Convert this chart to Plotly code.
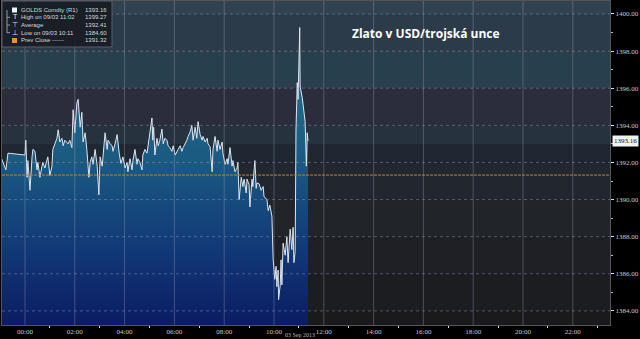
import pandas as pd
import plotly.graph_objects as go

# ---------------- data (minutes from 03 Sep 2013 00:00, price in USD/oz) ----------------
minutes = [
    -58, -46, -41, -20, 0, 2, 5, 7, 12, 17, 19, 24, 29, 31, 36, 41, 43, 48, 53, 55,
    60, 65, 67, 72, 77, 80, 84, 89, 92, 96, 101, 104, 108, 113, 116, 120, 125, 128, 133, 137,
    140, 145, 149, 154, 157, 161, 164, 169, 174, 178, 181, 186, 193, 198, 200, 205, 210, 212, 217, 222,
    227, 231, 236, 241, 246, 248, 253, 258, 260, 265, 270, 272, 277, 282, 284, 289, 294, 296, 301, 306,
    308, 310, 313, 318, 321, 325, 330, 333, 337, 342, 345, 349, 354, 357, 362, 366, 369, 374, 378, 381,
    386, 390, 393, 398, 402, 405, 410, 414, 417, 422, 427, 429, 434, 439, 441, 446, 451, 453, 458, 463,
    465, 470, 475, 477, 482, 487, 489, 494, 499, 501, 506, 511, 513, 516, 521, 525, 528, 533, 535, 540,
    542, 547, 549, 554, 557, 559, 564, 569, 571, 574, 576, 581, 583, 586, 590, 595, 598, 602, 605, 607,
    610, 611, 615, 617, 619, 622, 627, 631, 634, 639, 643, 646, 648, 651, 653, 656, 658, 662, 663, 668,
    670, 675, 678, 680, 682,
]
prices = [
    1392.3, 1391.6, 1392.5, 1392.45, 1392.4, 1393.2, 1391.2, 1392.1, 1390.5, 1392.3, 1392.7, 1392.6, 1391.6, 1392.0, 1391.2, 1391.8, 1392.0, 1391.7, 1392.2, 1392.3,
    1391.3, 1391.8, 1392.7, 1393.05, 1393.3, 1393.76, 1393.1, 1393.3, 1392.9, 1393.2, 1393.05, 1393.0, 1393.2, 1392.8, 1394.84, 1393.6, 1395.2, 1395.4, 1393.9, 1394.7,
    1393.1, 1393.6, 1392.7, 1391.2, 1392.0, 1392.3, 1391.9, 1392.7, 1391.8, 1390.25, 1392.3, 1391.8, 1393.6, 1392.7, 1393.2, 1393.0, 1392.9, 1392.6, 1393.0, 1393.5,
    1392.5, 1391.95, 1392.3, 1391.7, 1392.0, 1391.5, 1392.2, 1391.6, 1392.1, 1392.7, 1391.9, 1392.2, 1392.0, 1391.6, 1392.4, 1392.7, 1392.5, 1392.8, 1393.4, 1394.4,
    1393.2, 1393.9, 1392.4, 1393.3, 1392.9, 1393.2, 1393.8, 1393.0, 1393.3, 1393.2, 1392.9, 1392.8, 1392.6, 1392.9, 1392.4, 1392.6, 1392.7, 1392.9, 1392.6, 1392.8,
    1393.0, 1393.2, 1393.4, 1393.65, 1394.0, 1393.2, 1393.9, 1393.3, 1394.2, 1393.5, 1393.2, 1393.4, 1393.1, 1393.3, 1393.0, 1392.85, 1391.5, 1392.7, 1393.4, 1392.6,
    1393.2, 1392.7, 1393.1, 1392.5, 1391.9, 1392.2, 1391.9, 1392.8, 1391.8, 1392.1, 1391.5, 1391.7, 1392.0, 1390.0, 1391.2, 1390.7, 1391.1, 1390.35, 1391.1, 1390.8,
    1389.6, 1391.1, 1390.7, 1392.1, 1390.6, 1390.9, 1390.85, 1390.5, 1390.6, 1390.7, 1390.15, 1390.0, 1390.0, 1389.4, 1389.7, 1389.1, 1386.75, 1385.7, 1386.4, 1385.3,
    1386.2, 1384.6, 1385.4, 1386.75, 1385.4, 1387.65, 1387.0, 1388.0, 1386.6, 1388.4, 1387.3, 1388.5, 1386.6, 1387.2, 1393.75, 1396.3, 1395.4, 1399.27, 1396.1, 1395.5,
    1395.0, 1394.2, 1391.8, 1393.6, 1393.16,
]

series_name = "GOLDS Comdty (R1)"
last_price = 1393.16
high_label, high_value = "High on 09/03 11:02", 1399.27
avg_label, avg_value = "Average", 1392.41
low_label, low_value = "Low on 09/03 10:11", 1384.60
prev_label, prev_close = "Prev Close ------", 1391.32
title_text = "Zlato v USD/trojská unce"
date_label = "03 Sep 2013"
y_ticks = [1384, 1386, 1388, 1390, 1392, 1394, 1396, 1398, 1400]
x_tick_hours = list(range(0, 24, 2))

base = pd.Timestamp("2013-09-03 00:00")
times = [base + pd.Timedelta(minutes=m) for m in minutes]

# ---------------- layout geometry helpers ----------------
W_FIG, H_FIG = 640, 339
M_L, M_R, M_T, M_B = 2, 30, 1, 14
PW = W_FIG - M_L - M_R
PH = H_FIG - M_T - M_B


def px(x):
    return (x - M_L) / PW


def py(y):
    return (M_T + PH - y) / PH


Y_MIN, Y_MAX = 1383.24, 1400.70
x_start = base - pd.Timedelta(minutes=55.4)
x_end = base + pd.Timedelta(hours=23.494)

fig = go.Figure()

fig.add_trace(go.Scatter(
    x=times, y=prices, mode="lines",
    line=dict(color="#dde5ee", width=1),
    fill="tozeroy",
    fillgradient=dict(
        type="vertical",
        colorscale=[[0, "#0b1c62"], [0.35, "#123a78"], [0.7, "#1a5880"], [1, "#22688a"]],
        start=Y_MIN, stop=1395.5,
    ),
    hoverinfo="skip", showlegend=False,
))

shapes = []
# background bands
bands = [
    (1383.0, 1384, "#1a1a1d"), (1384, 1386, "#1c1d21"), (1386, 1388, "#1e2025"),
    (1388, 1390, "#212429"), (1390, 1392, "#22272f"), (1392, 1393, "#1f2732"),
    (1393, 1394, "#27323f"), (1394, 1396, "#2b2d3d"), (1396, 1398, "#283f4e"),
    (1398, 1400, "#2b3b4a"), (1400, 1401, "#30424f"),
]
for y0, y1, c in bands:
    shapes.append(dict(type="rect", xref="paper", yref="y", x0=0, x1=1, y0=y0, y1=y1,
                       fillcolor=c, line=dict(width=0), layer="below"))

# horizontal grid
for v in y_ticks:
    col = "rgba(160,150,90,0.55)" if v == 1398 else "rgba(150,155,175,0.45)"
    shapes.append(dict(type="line", xref="paper", yref="y", x0=0, x1=1, y0=v, y1=v,
                       line=dict(color=col, width=1, dash="dot"), layer="above"))
# vertical grid
for h in x_tick_hours:
    t = base + pd.Timedelta(hours=h)
    shapes.append(dict(type="line", xref="x", yref="paper", x0=t, x1=t, y0=0, y1=1,
                       line=dict(color="rgba(160,170,190,0.35)", width=1), layer="above"))
# previous close line
shapes.append(dict(type="line", xref="paper", yref="y", x0=0, x1=1, y0=prev_close, y1=prev_close,
                   line=dict(color="#c8802e", width=1, dash="3px,1px"), layer="above"))

# legend box
shapes.append(dict(type="rect", xref="paper", yref="paper", x0=px(2), x1=px(112), y0=py(47), y1=py(1),
                   fillcolor="rgba(24,28,36,0.92)", line=dict(color="#5a5f68", width=1), layer="above"))
# tree bracket
shapes.append(dict(type="line", xref="paper", yref="paper", x0=px(7), x1=px(7), y0=py(10), y1=py(33),
                   line=dict(color="#9098a4", width=1), layer="above"))
for ry in [17.3, 25, 32.7]:
    shapes.append(dict(type="line", xref="paper", yref="paper", x0=px(7), x1=px(10), y0=py(ry), y1=py(ry),
                       line=dict(color="#9098a4", width=1), layer="above"))
shapes.append(dict(type="rect", xref="paper", yref="paper", x0=px(12), x1=px(17), y0=py(12.5), y1=py(7.5),
                   fillcolor="#f4f4f4", line=dict(width=0), layer="above"))
shapes.append(dict(type="rect", xref="paper", yref="paper", x0=px(12), x1=px(17), y0=py(43), y1=py(38),
                   fillcolor="#e8902a", line=dict(width=0), layer="above"))

annotations = []
rows = [
    (10, series_name, last_price),
    (17.3, high_label, high_value),
    (25, avg_label, avg_value),
    (32.7, low_label, low_value),
    (40.3, prev_label, prev_close),
]
for ry, lab, val in rows:
    annotations.append(dict(xref="paper", yref="paper", x=px(19), y=py(ry), text=lab, showarrow=False,
                            xanchor="left", yanchor="middle",
                            font=dict(family="Liberation Sans", size=6, color="#d8d8d8")))
    annotations.append(dict(xref="paper", yref="paper", x=px(109), y=py(ry), text=f"{val:.2f}", showarrow=False,
                            xanchor="right", yanchor="middle",
                            font=dict(family="Liberation Sans", size=6, color="#d8d8d8")))
for ry, glyph in [(17.3, "T"), (25, "⊤"), (32.7, "⊥")]:
    annotations.append(dict(xref="paper", yref="paper", x=px(14.5), y=py(ry), text=glyph, showarrow=False,
                            xanchor="center", yanchor="middle",
                            font=dict(family="DejaVu Sans", size=7, color="#e0e0e0")))

# title
annotations.append(dict(xref="paper", yref="paper", x=px(426), y=py(33), text=f"<b>{title_text}</b>",
                        showarrow=False, xanchor="center", yanchor="middle",
                        font=dict(family="Open Sans", size=12, color="#ffffff")))
# last price tag
annotations.append(dict(xref="paper", yref="y", x=1, y=last_price, xshift=2, text=f"{last_price:.2f}",
                        showarrow=False, xanchor="left", yanchor="middle", bgcolor="#f2f2f2", borderpad=1,
                        font=dict(family="Liberation Serif", size=7, color="#111111")))
# date label
annotations.append(dict(xref="paper", yref="paper", x=px(300), y=py(335.2), text=date_label, showarrow=False,
                        xanchor="center", yanchor="middle",
                        font=dict(family="Liberation Serif", size=6, color="#b8b8b8")))

fig.update_layout(
    width=W_FIG, height=H_FIG,
    margin=dict(l=M_L, r=M_R, t=M_T, b=M_B),
    paper_bgcolor="#000000", plot_bgcolor="#222630",
    shapes=shapes, annotations=annotations, showlegend=False,
    xaxis=dict(
        type="date", range=[x_start, x_end],
        tickformat="%H:%M", tick0=base, dtick=7200000,
        showgrid=False, zeroline=False,
        ticks="", ticklen=0,
        minor=dict(dtick=3600000, ticks="outside", ticklen=2, tickcolor="#dddddd", showgrid=False),
        tickfont=dict(family="Liberation Serif", size=7, color="#c8c8c8"),
        showline=True, linecolor="#555555", mirror=True,
    ),
    yaxis=dict(
        side="right", range=[Y_MIN, Y_MAX],
        tickmode="linear", tick0=1384, dtick=2, tickformat=".2f",
        showgrid=False, zeroline=False,
        ticks="outside", ticklen=3, tickcolor="#e0e0e0",
        minor=dict(tick0=1383, dtick=1, ticks="outside", ticklen=2, tickcolor="#bbbbbb", showgrid=False),
        tickfont=dict(family="Liberation Serif", size=7, color="#c8c8c8"),
        showline=True, linecolor="#555555", mirror=True,
    ),
)

fig.write_html("out.html")
